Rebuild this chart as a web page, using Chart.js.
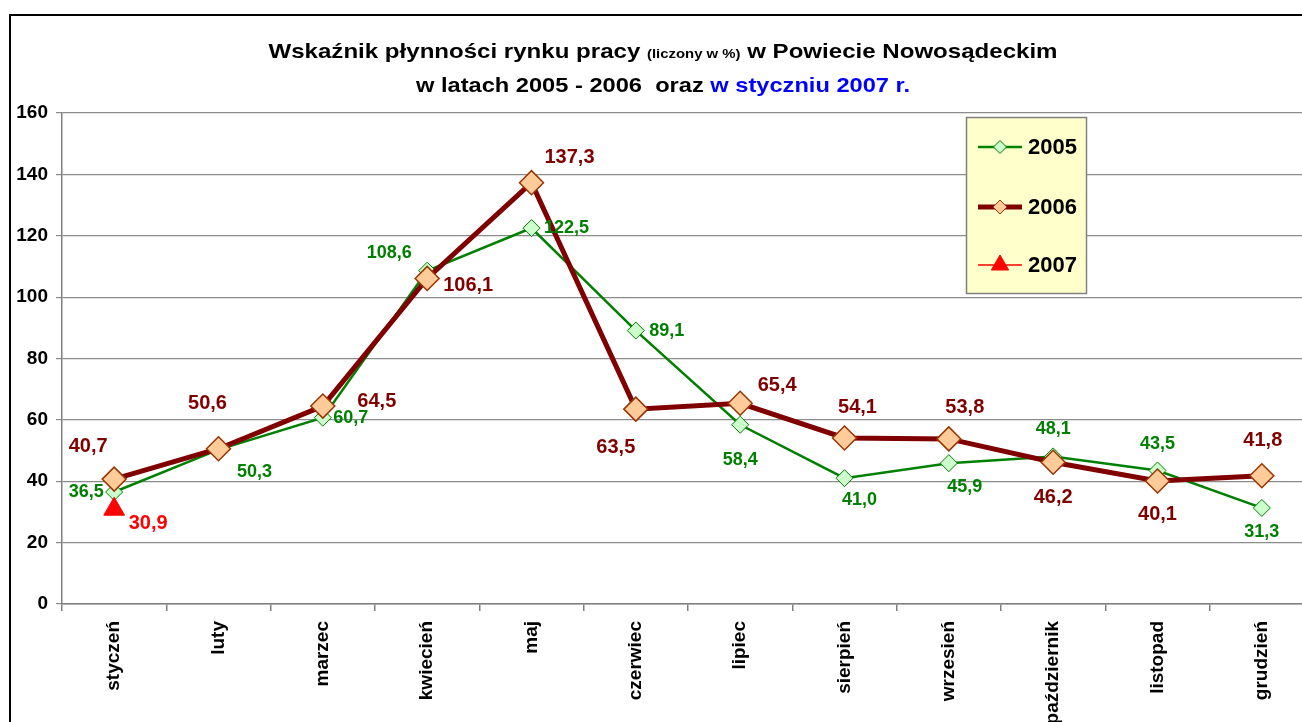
<!DOCTYPE html>
<html>
<head>
<meta charset="utf-8">
<script src="https://cdn.jsdelivr.net/npm/chart.js@4"></script>
<style>
  html, body { margin: 0; padding: 0; background: #fff; overflow: hidden; }
  #wrap { position: absolute; left: 0; top: 0; width: 1330px; height: 760px; }
</style>
</head>
<body>
<div id="wrap"><canvas id="chart" width="1330" height="760"></canvas></div>
<script>
// Category labels (months)
const months = ['styczeń', 'luty', 'marzec', 'kwiecień', 'maj', 'czerwiec',
                'lipiec', 'sierpień', 'wrzesień', 'październik', 'listopad', 'grudzień'];

// Series values (in %)
const values2005 = [36.5, 50.3, 60.7, 108.6, 122.5, 89.1, 58.4, 41.0, 45.9, 48.1, 43.5, 31.3];
const values2006 = [40.7, 50.6, 64.5, 106.1, 137.3, 63.5, 65.4, 54.1, 53.8, 46.2, 40.1, 41.8];
const values2007 = [30.9, null, null, null, null, null, null, null, null, null, null, null];

// Y axis
const yMin = 0;
const yMax = 160;
const yStep = 20;

// Where each value label sits relative to its point (dx, dy in px)
const labelOffsets2005 = [[-28, 0], [36, 22], [28, 0], [-38, -18], [35, 0], [31, 0],
                          [0, 35], [15, 22], [16, 24], [0, -27], [0, -26], [0, 24]];
const labelOffsets2006 = [[-26, -33], [-11, -45], [54, -5], [41, 7], [38, -25], [-20, 38],
                          [37, -18], [13, -30], [16, -31], [0, 35], [0, 34], [1, -35]];
const labelOffsets2007 = [[34, 14]];

const FONT = '"Liberation Sans", Arial, sans-serif';

// decimal comma formatting
const fmt = v => v.toFixed(1).replace('.', ',');

// white background + outer frame
const framePlugin = {
  id: 'frame',
  beforeDraw(chart) {
    const ctx = chart.ctx;
    ctx.save();
    ctx.fillStyle = '#fff';
    ctx.fillRect(0, 0, chart.width, chart.height);
    ctx.strokeStyle = '#000';
    ctx.lineWidth = 2;
    ctx.strokeRect(10, 15, chart.width + 20, chart.height + 20);
    ctx.restore();
  }
};

// two line title with mixed font sizes and colours
const titlePlugin = {
  id: 'mixedTitle',
  afterDraw(chart) {
    const ctx = chart.ctx;
    const cx = 663;
    const drawLine = (parts, y, targetWidth) => {
      let w = 0;
      parts.forEach(p => { ctx.font = p.font; p.w = ctx.measureText(p.text).width; w += p.w; });
      const sx = targetWidth / w;
      ctx.save();
      ctx.translate(cx - targetWidth / 2, y);
      ctx.scale(sx, 1);
      let x = 0;
      parts.forEach(p => {
        ctx.font = p.font;
        ctx.fillStyle = p.color;
        ctx.textBaseline = 'alphabetic';
        ctx.textAlign = 'left';
        ctx.fillText(p.text, x, 0);
        x += p.w;
      });
      ctx.restore();
    };
    drawLine([
      { text: 'Wskaźnik płynności rynku pracy ', font: 'bold 21px ' + FONT, color: '#000' },
      { text: '(liczony w %)', font: 'bold 13px ' + FONT, color: '#000' },
      { text: ' w Powiecie Nowosądeckim', font: 'bold 21px ' + FONT, color: '#000' }
    ], 58, 789);
    drawLine([
      { text: 'w latach 2005 - 2006  oraz ', font: 'bold 21px ' + FONT, color: '#000' },
      { text: 'w styczniu 2007 r.', font: 'bold 21px ' + FONT, color: '#0000ff' }
    ], 92, 494);
  }
};

// value labels next to the points
const valueLabelPlugin = {
  id: 'valueLabels',
  afterDatasetsDraw(chart) {
    const ctx = chart.ctx;
    const cfg = [
      { offsets: labelOffsets2005, color: '#008000', size: 18 },
      { offsets: labelOffsets2006, color: '#800000', size: 20 },
      { offsets: labelOffsets2007, color: '#ff0000', size: 20 }
    ];
    ctx.save();
    ctx.textAlign = 'center';
    ctx.textBaseline = 'middle';
    chart.data.datasets.forEach((ds, i) => {
      const meta = chart.getDatasetMeta(i);
      meta.data.forEach((pt, j) => {
        const v = ds.data[j];
        if (v === null || v === undefined) return;
        const off = cfg[i].offsets[j] || [0, -20];
        ctx.font = 'bold ' + cfg[i].size + 'px ' + FONT;
        ctx.fillStyle = cfg[i].color;
        ctx.fillText(fmt(v), pt.x + off[0], pt.y + off[1]);
      });
    });
    ctx.restore();
  }
};

// legend box inside the plot area
const legendPlugin = {
  id: 'boxLegend',
  afterDraw(chart) {
    const ctx = chart.ctx;
    const box = { x: 966, y: 117, w: 121, h: 177 };
    ctx.save();
    ctx.fillStyle = '#ffffcc';
    ctx.fillRect(box.x, box.y, box.w, box.h);
    ctx.strokeStyle = '#808080';
    ctx.lineWidth = 1.5;
    ctx.strokeRect(box.x + 0.5, box.y + 0.5, box.w - 1, box.h - 1);
    const rows = [147, 207, 265];
    const markerSizes = [6.5, 7, 10];
    chart.data.datasets.forEach((ds, i) => {
      const y = rows[i];
      ctx.strokeStyle = ds.borderColor;
      ctx.lineWidth = ds.borderWidth;
      ctx.beginPath();
      ctx.moveTo(978, y);
      ctx.lineTo(1022, y);
      ctx.stroke();
      ctx.fillStyle = ds.pointBackgroundColor;
      ctx.strokeStyle = ds.pointBorderColor;
      ctx.lineWidth = 1;
      Chart.helpers.drawPoint(ctx, { pointStyle: ds.pointStyle, radius: markerSizes[i], rotation: 0, borderWidth: 1 }, 1000, y);
      ctx.fillStyle = '#000';
      ctx.font = 'bold 22px ' + FONT;
      ctx.textAlign = 'left';
      ctx.textBaseline = 'middle';
      ctx.fillText(ds.label, 1028, y + 1);
    });
    ctx.restore();
  }
};

const ctx = document.getElementById('chart').getContext('2d');
new Chart(ctx, {
  type: 'line',
  data: {
    labels: months,
    datasets: [
      {
        label: '2005',
        data: values2005,
        borderColor: '#008000',
        borderWidth: 2.5,
        pointStyle: 'rectRot',
        pointRadius: 8.5,
        pointBackgroundColor: '#ccffcc',
        pointBorderColor: '#008000',
        pointBorderWidth: 1,
        tension: 0,
        order: 3
      },
      {
        label: '2006',
        data: values2006,
        borderColor: '#800000',
        borderWidth: 5,
        pointStyle: 'rectRot',
        pointRadius: 12,
        pointBackgroundColor: '#ffcc99',
        pointBorderColor: '#993300',
        pointBorderWidth: 1.5,
        tension: 0,
        order: 2
      },
      {
        label: '2007',
        data: values2007,
        borderColor: '#ff0000',
        borderWidth: 1.5,
        pointStyle: 'triangle',
        pointRadius: 12,
        pointBackgroundColor: '#ff0000',
        pointBorderColor: '#ff0000',
        pointBorderWidth: 1,
        tension: 0,
        order: 1
      }
    ]
  },
  options: {
    responsive: false,
    animation: false,
    devicePixelRatio: 1,
    layout: { padding: { left: 0, right: 16, top: 113, bottom: 0 } },
    plugins: {
      legend: { display: false },
      title: { display: false },
      tooltip: { enabled: false }
    },
    scales: {
      x: {
        offset: true,
        grid: {
          offset: true,
          drawOnChartArea: false,
          color: '#808080',
          tickLength: 7,
          lineWidth: 1.5
        },
        border: { color: '#808080', width: 1.5 },
        ticks: {
          minRotation: 90,
          maxRotation: 90,
          autoSkip: false,
          padding: 10,
          color: '#000',
          font: { family: FONT, size: 19, weight: 'bold' }
        },
        afterFit: scale => { scale.height = 760 - 604; }
      },
      y: {
        min: yMin,
        max: yMax,
        ticks: {
          stepSize: yStep,
          padding: 8,
          color: '#000',
          font: { family: FONT, size: 19, weight: 'bold' }
        },
        grid: { color: '#8c8c8c', lineWidth: 1.2, tickLength: 6 },
        border: { color: '#808080', width: 1.5 },
        afterFit: scale => { scale.width = 62; }
      }
    }
  },
  plugins: [framePlugin, titlePlugin, valueLabelPlugin, legendPlugin]
});
</script>
</body>
</html>
